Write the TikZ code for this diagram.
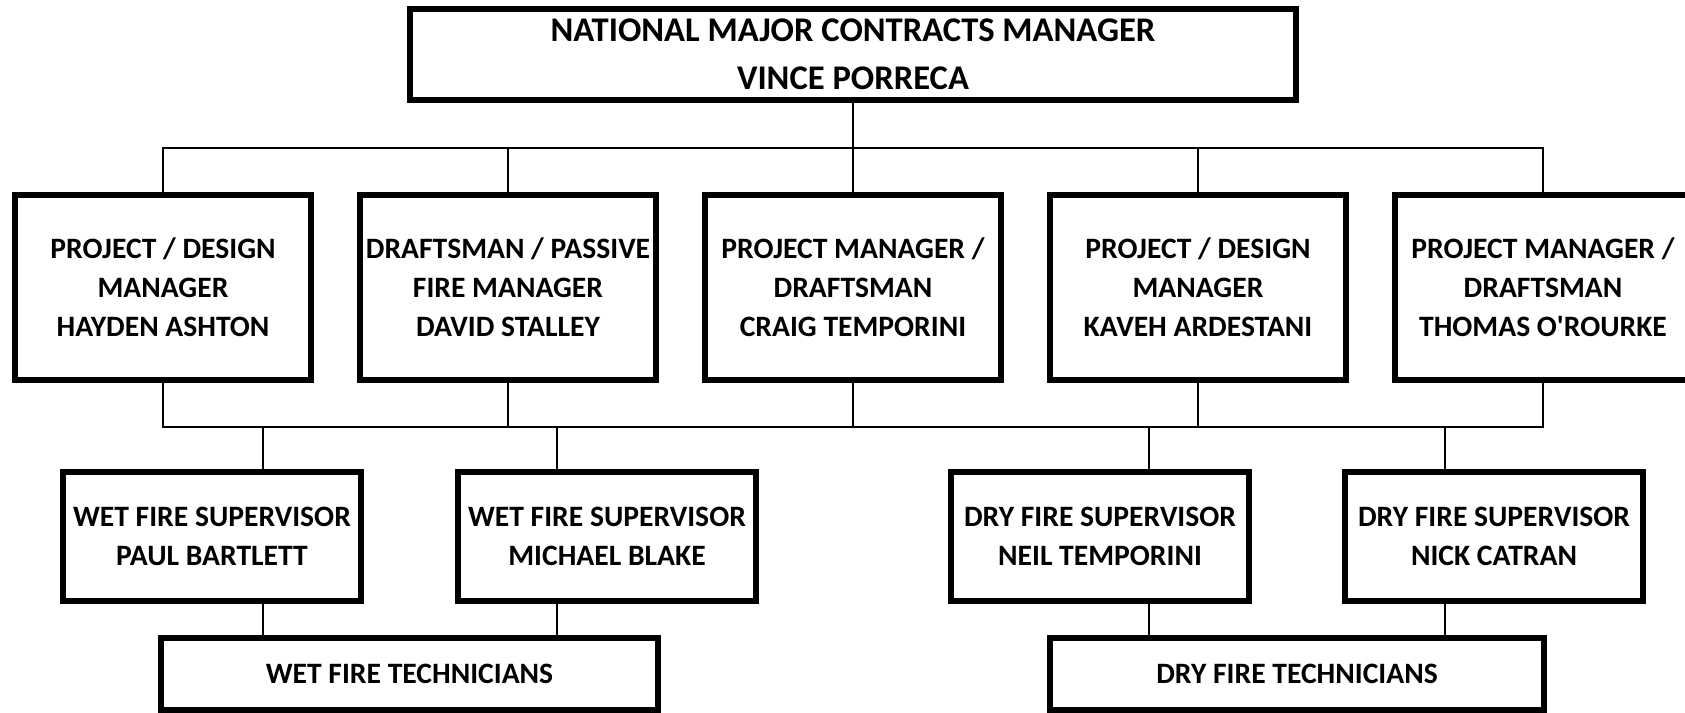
\documentclass[tikz,border=0pt]{standalone}
\usepackage{fontspec}
\setmainfont{Carlito}
\usetikzlibrary{positioning}

\begin{document}
\begin{tikzpicture}[
    x=0.5pt, y=-0.5pt,
    node distance=24.5pt,
    box/.style={draw, line width=3pt, outer sep=0pt, inner sep=0pt, minimum width=148pt, minimum height=92.5pt, align=center, font=\bfseries\fontsize{14.8}{19.5}\selectfont},
    head/.style={box, minimum width=443pt, minimum height=45.5pt, font=\bfseries\fontsize{17.3}{24}\selectfont},
    super/.style={box, minimum width=149pt, minimum height=64.5pt},
    crew/.style={box, minimum height=36pt},
    link/.style={line width=1pt}
]
\useasboundingbox (0,0) rectangle (1685,712);

% top
\node[head] (top) at (853,54.5) {NATIONAL MAJOR CONTRACTS MANAGER\\VINCE PORRECA};

% managers
\node[box] (pm1) at (163,287.5) {PROJECT / DESIGN\\MANAGER\\HAYDEN ASHTON};
\node[box, right=of pm1] (pm2) {DRAFTSMAN / PASSIVE\\FIRE MANAGER\\DAVID STALLEY};
\node[box, right=of pm2] (pm3) {PROJECT MANAGER /\\DRAFTSMAN\\CRAIG TEMPORINI};
\node[box, right=of pm3] (pm4) {PROJECT / DESIGN\\MANAGER\\KAVEH ARDESTANI};
\node[box, right=of pm4] (pm5) {PROJECT MANAGER /\\DRAFTSMAN\\THOMAS O\textquotesingle ROURKE};

% supervisors
\node[super] (wet1) at (212,536.5) {WET FIRE SUPERVISOR\\PAUL BARTLETT};
\node[super] (wet2) at (607,536.5) {WET FIRE SUPERVISOR\\MICHAEL BLAKE};
\node[super] (dry1) at (1100,536.5) {DRY FIRE SUPERVISOR\\NEIL TEMPORINI};
\node[super] (dry2) at (1494,536.5) {DRY FIRE SUPERVISOR\\NICK CATRAN};

% technicians
\node[crew, minimum width=248.5pt] (wettech) at (409.5,674) {WET FIRE TECHNICIANS};
\node[crew, minimum width=247pt] (drytech) at (1297,674) {DRY FIRE TECHNICIANS};

\coordinate (busup) at (853,148);
\coordinate (buslow) at (853,427);
\coordinate (w1) at (263,427);
\coordinate (w2) at (557,427);
\coordinate (d1) at (1149,427);
\coordinate (d2) at (1445,427);

\draw[link] (top.south) -- (pm3.north);
\draw[link] (pm1.north) |- (busup) -| (pm5.north);
\foreach \n in {pm2,pm4}
    \draw[link] (\n.north) -- (\n.north |- busup);
\draw[link] (pm1.south) |- (buslow) -| (pm5.south);
\foreach \n in {pm2,pm3,pm4}
    \draw[link] (\n.south) -- (\n.south |- buslow);

\draw[link] (w1) -- (w1 |- wet1.north);
\draw[link] (w2) -- (w2 |- wet2.north);
\draw[link] (d1) -- (d1 |- dry1.north);
\draw[link] (d2) -- (d2 |- dry2.north);
\draw[link] (w1 |- wet1.south) -- (w1 |- wettech.north);
\draw[link] (w2 |- wet2.south) -- (w2 |- wettech.north);
\draw[link] (d1 |- dry1.south) -- (d1 |- drytech.north);
\draw[link] (d2 |- dry2.south) -- (d2 |- drytech.north);
\end{tikzpicture}
\end{document}
